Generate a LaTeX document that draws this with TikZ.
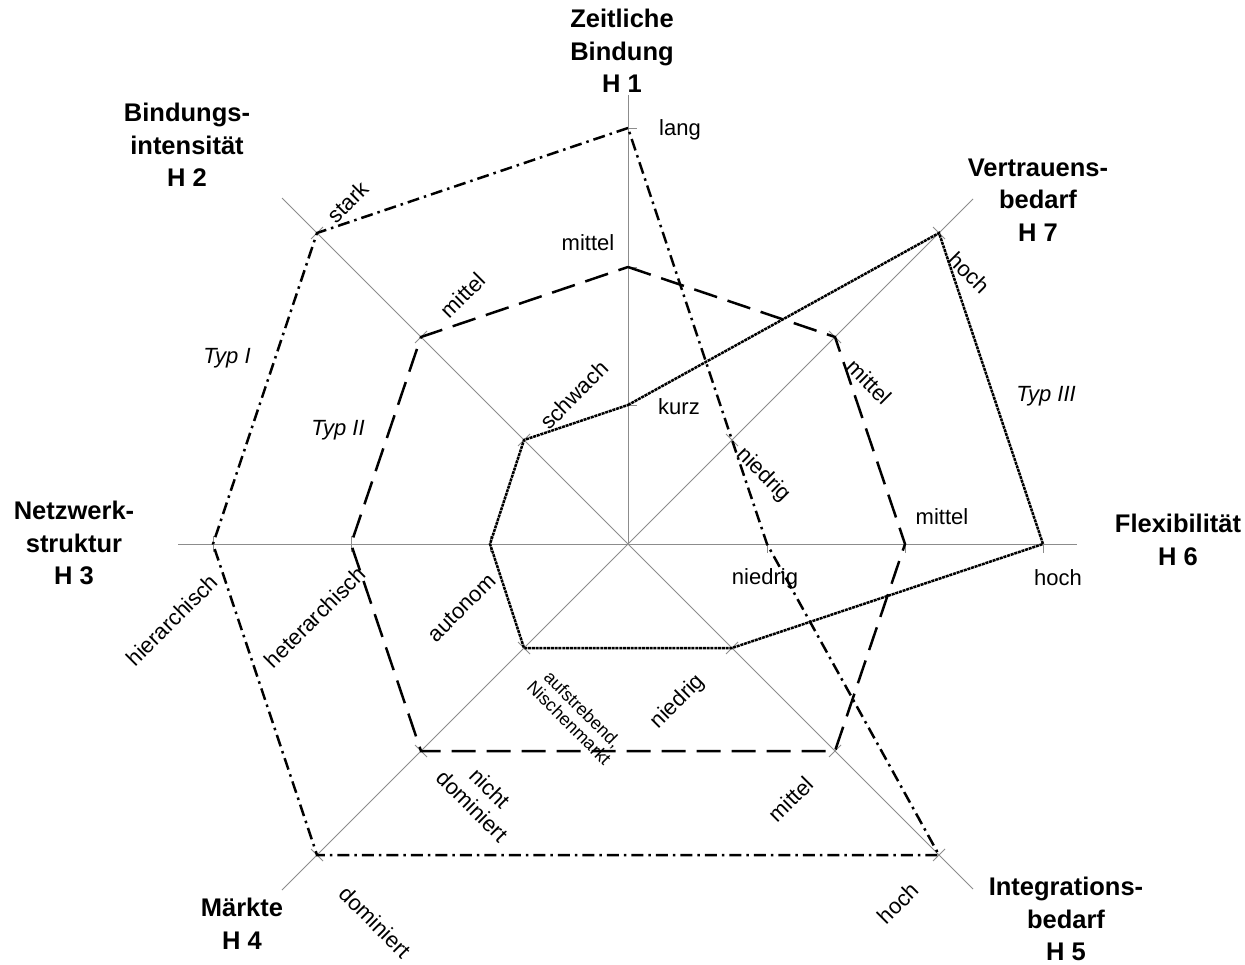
\documentclass[tikz,border=0pt]{standalone}
\usepackage{fontspec}
\setmainfont{Liberation Sans}
\definecolor{axisgray}{RGB}{140,140,140}
\begin{document}
\begin{tikzpicture}[x=1pt,y=-1pt,
  axisline/.style={draw=axisgray, line width=0.9pt},
  tickline/.style={draw=axisgray, line width=0.9pt},
  typI/.style={line width=2.5pt, dash pattern=on 12pt off 5pt on 2.5pt off 5pt},
  typII/.style={line width=2.5pt, dash pattern=on 24pt off 11pt},
  typIII/.style={line width=2.5pt, dash pattern=on 3pt off 0.8pt},
  title/.style={align=center, font=\fontsize{25.5}{32.5}\selectfont\bfseries, inner sep=0pt},
  lbl/.style={align=center, font=\fontsize{22}{25}\selectfont, inner sep=0pt},
  smalllbl/.style={align=center, font=\fontsize{18}{19}\selectfont, inner sep=0pt},
  typlbl/.style={font=\fontsize{22}{25}\selectfont\itshape, inner sep=0pt}
  ]
\useasboundingbox (0,0) rectangle (1245,965);
\fill[white] (0,0) rectangle (1245,965);

% centre and axis ends
\coordinate (C) at (628,544);
\coordinate (E1) at (628,95);
\coordinate (E2) at (282,198);
\coordinate (E3) at (178,544);
\coordinate (E4) at (282,890);
\coordinate (E5) at (973,889);
\coordinate (E6) at (1077,544);
\coordinate (E7) at (973,199);

% level points
\coordinate (a1) at (628,405); \coordinate (a2) at (628,267); \coordinate (a3) at (628,128);
\coordinate (b1) at (524,440); \coordinate (b2) at (421,337); \coordinate (b3) at (317,233);
\coordinate (c1) at (490,544); \coordinate (c2) at (351,544); \coordinate (c3) at (213,544);
\coordinate (d1) at (524,648); \coordinate (d2) at (421,751); \coordinate (d3) at (317,855);
\coordinate (e1) at (732,648); \coordinate (e2) at (835,751); \coordinate (e3) at (939,855);
\coordinate (f1) at (767,544); \coordinate (f2) at (905,544); \coordinate (f3) at (1043,544);
\coordinate (g1) at (732,440); \coordinate (g2) at (835,337); \coordinate (g3) at (939,233);

% axes
\foreach \e in {E1,E2,E3,E4,E5,E6,E7} \draw[axisline] (C) -- (\e);

% ticks
\foreach \p in {a1,a2,a3} \draw[tickline] (\p) -- ++(9,0);
\foreach \p in {f1,f2,f3} \draw[tickline] (\p) -- ++(0,9);
\foreach \p in {c1,c2,c3} \draw[tickline] ([yshift=8pt]\p) -- ([yshift=-8pt]\p);
\foreach \p in {b1,b2,b3,e1,e2,e3} \draw[tickline] ([shift={(-6,6)}]\p) -- ([shift={(6,-6)}]\p);
\foreach \p in {g1,g2,g3,d1,d2,d3} \draw[tickline] ([shift={(-6,-6)}]\p) -- ([shift={(6,6)}]\p);

% profiles
\draw[typI] (a3) -- (b3) -- (c3) -- (d3) -- (e3) -- (f1) -- (g1) -- cycle;
\draw[typII] (a2) -- (g2) -- (f2) -- (e2) -- (d2) -- (c2) -- (b2) -- cycle;
\draw[typIII] (a1) -- (g3) -- (f3) -- (e1) -- (d1) -- (c1) -- (b1) -- cycle;

% axis titles
\node[title] (t1) at (622,51) {Zeitliche\\Bindung\\H 1};
\node[title] (t2) at (187,145) {Bindungs-\\intensität\\H 2};
\node[title] (t3) at (74,543) {Netzwerk-\\struktur\\H 3};
\node[title] (t4) at (242,924) {Märkte\\H 4};
\node[title] (t5) at (1066,919) {Integrations-\\bedarf\\H 5};
\node[title] (t6) at (1178,540) {Flexibilität\\H 6};
\node[title] (t7) at (1038,200) {Vertrauens-\\bedarf\\H 7};

% level labels
\node[lbl] (la3) at (680,130) {lang};
\node[lbl] (la2) at (588,243) {mittel};
\node[lbl] (la1) at (679,407) {kurz};
\node[lbl, rotate=45] (lb3) at (348,202) {stark};
\node[lbl, rotate=45] (lb2) at (463,295) {mittel};
\node[lbl, rotate=45] (lb1) at (574,395) {schwach};
\node[lbl, rotate=-45] (lg3) at (969,273) {hoch};
\node[lbl, rotate=-45] (lg2) at (869,382) {mittel};
\node[lbl, rotate=-45] (lg1) at (763,475) {niedrig};
\node[lbl] (lf2) at (942,517) {mittel};
\node[lbl] (lf3) at (1058,578) {hoch};
\node[lbl] (lf1) at (765,579) {niedrig};
\node[lbl, rotate=45] (lc3) at (172,620) {hierarchisch};
\node[lbl, rotate=45] (lc2) at (315,617) {heterarchisch};
\node[lbl, rotate=45] (lc1) at (462,608) {autonom};
\node[smalllbl, rotate=-45] (ld1) at (576,716) {aufstrebend,\\Nischenmarkt};
\node[lbl, rotate=-45] (ld2) at (481,797) {nicht\\dominiert};
\node[lbl, rotate=-45] (ld3) at (375,922) {dominiert};
\node[lbl, rotate=45] (le1) at (678,702) {niedrig};
\node[lbl, rotate=45] (le2) at (791,799) {mittel};
\node[lbl, rotate=45] (le3) at (898,903) {hoch};

% type labels
\node[typlbl] (ty1) at (227,358) {Typ I};
\node[typlbl] (ty2) at (338,430) {Typ II};
\node[typlbl] (ty3) at (1046,396) {Typ III};
\end{tikzpicture}
\end{document}
